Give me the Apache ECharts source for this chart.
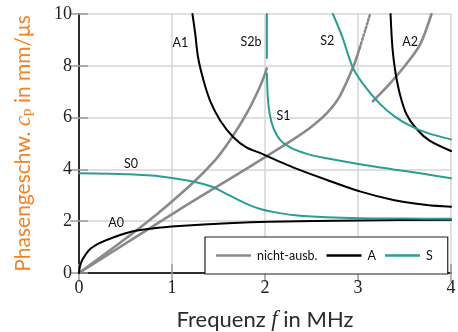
<!DOCTYPE html>
<html><head><meta charset="utf-8">
<script src="https://cdn.jsdelivr.net/npm/echarts@6/dist/echarts.min.js"></script>
<style>html,body{margin:0;padding:0;background:#fff}#c{width:458px;height:332px}</style>
</head><body><div id="c"></div>
<script>
// Data (f in MHz, c_p in mm/µs)
const fA0 = [0, 0.01, 0.036, 0.11, 0.22, 0.36, 0.57, 0.79, 1.08, 1.6, 2.04, 3.0, 4.0];
const cA0 = [0, 0.25, 0.51, 0.89, 1.15, 1.36, 1.6, 1.72, 1.81, 1.92, 1.98, 2.03, 2.06];
const fS0 = [0, 0.54, 0.9, 1.18, 1.43, 1.61, 1.79, 1.94, 2.1, 2.3, 2.66, 3.02, 3.5, 4.0];
const cS0 = [3.85, 3.81, 3.72, 3.56, 3.33, 3.01, 2.69, 2.48, 2.35, 2.24, 2.15, 2.11, 2.1, 2.09];
const fA1 = [1.22, 1.25, 1.28, 1.34, 1.41, 1.52, 1.66, 1.8, 1.97, 2.19, 2.3, 2.66, 3.02, 3.38, 3.74, 4.0];
const cA1 = [10, 9.23, 8.33, 7.42, 6.65, 5.88, 5.24, 4.85, 4.6, 4.25, 4.08, 3.6, 3.15, 2.82, 2.63, 2.56];
const fS2b = [2.02, 2.02];
const cS2b = [10, 8.3];
const fS1 = [2.02, 2.03, 2.05, 2.09, 2.16, 2.27, 2.45, 2.66, 3.02, 3.38, 3.7, 4.0];
const cS1 = [7.7, 6.8, 6.15, 5.6, 5.15, 4.85, 4.6, 4.43, 4.2, 4.0, 3.83, 3.66];
const fS2 = [2.73, 2.83, 2.94, 3.05, 3.23, 3.4, 3.58, 3.76, 4.0];
const cS2 = [10, 9.13, 7.97, 7.32, 6.55, 6.03, 5.65, 5.39, 5.16];
const fA2 = [3.35, 3.37, 3.4, 3.45, 3.52, 3.63, 3.77, 4.0];
const cA2 = [10, 8.71, 7.81, 6.91, 6.14, 5.56, 5.11, 4.71];
const fG1 = [0, 0.72, 1.2, 1.45, 1.62, 1.8, 1.95, 2.02];
const cG1 = [0, 1.93, 3.4, 4.3, 5.11, 6.14, 7.23, 7.9];
const fG2 = [0, 1.075, 1.79, 2.04, 2.3, 2.5, 2.66, 2.8, 2.95, 3.02];
const cG2 = [0, 2.44, 4.0, 4.56, 5.15, 5.65, 6.15, 6.8, 7.97, 8.71];
const fG2dot = [3.02, 3.08, 3.13];
const cG2dot = [8.71, 9.4, 10];
const fG3 = [3.16, 3.34, 3.52, 3.67, 3.79];
const cG3 = [6.63, 7.3, 8.07, 8.84, 10];
const modeLabels = ['A1', 'S2b', 'S2', 'A2', 'S1', 'S0', 'A0'];
const labelF = [1.09, 1.85, 2.67, 3.56, 2.2, 0.56, 0.4];
const labelC = [8.9, 8.93, 8.97, 8.93, 6.07, 4.22, 1.93];
const xTicks = [0, 1, 2, 3, 4];
const yTicks = [0, 2, 4, 6, 8, 10];
const legendNames = ['nicht-ausb.', 'A', 'S'];

const GRAY = '#8a8a8a', BLACK = '#000000', TEAL = '#2a9d95';
const zip = (a, b) => a.map((v, i) => [v, b[i]]);
function line(name, f, c, color, width, type) {
  return { name, type: 'line', data: zip(f, c), symbol: 'none', smooth: 0.3,
    lineStyle: { color, width, type: type || 'solid', cap: 'round' }, itemStyle: { color },
    silent: true, animation: false, clip: true };
}
const SANS = 'Lato, "Open Sans", sans-serif';
const SERIF = '"Liberation Serif", "DejaVu Serif", serif';

const chart = echarts.init(document.getElementById('c'), null, { renderer: 'canvas' });
const axisCommon = {
  type: 'value', min: 0,
  axisTick: { show: true, inside: true, length: 9, lineStyle: { color: '#9a9a9a', width: 1.5 } },
  splitLine: { show: false },
};
chart.setOption({
  animation: false,
  grid: { left: 79, right: 7, top: 14, bottom: 59, containLabel: false, outerBoundsMode: 'none' },
  xAxis: [
    Object.assign({}, axisCommon, {
      max: 4, interval: 1, position: 'bottom',
      axisLine: { lineStyle: { color: '#222', width: 1.5 } },
      splitLine: { show: true, lineStyle: { color: '#d6d6d6', width: 1.5 } },
      axisLabel: { fontFamily: SERIF, fontSize: 18, color: '#222', margin: 6,
        formatter: v => xTicks.includes(v) ? String(v) : '' },
      name: '{a|Frequenz }{m|f}{a| in MHz}', nameLocation: 'middle', nameGap: 35,
      nameTextStyle: { rich: {
        a: { fontFamily: SANS, fontSize: 22, color: '#2b2b2b' },
        m: { fontFamily: SERIF, fontStyle: 'italic', fontSize: 23, color: '#2b2b2b' } } }
    }),
    Object.assign({}, axisCommon, {
      max: 4, interval: 1, position: 'top',
      axisLine: { lineStyle: { color: '#222', width: 1.5 } },
      axisLabel: { show: false }
    })
  ],
  yAxis: [
    Object.assign({}, axisCommon, {
      max: 10, interval: 2, position: 'left',
      axisLine: { show: true, lineStyle: { color: '#222', width: 1.5 } },
      splitLine: { show: true, lineStyle: { color: '#d6d6d6', width: 1.5 } },
      axisLabel: { fontFamily: SERIF, fontSize: 18, color: '#222', margin: 7,
        formatter: v => yTicks.includes(v) ? String(v) : '' },
      name: '{a|Phasengeschw. }{m|c}{s|p}{a| in mm/μs}', nameLocation: 'middle', nameGap: 44,
      nameTextStyle: { rich: {
        a: { fontFamily: SANS, fontSize: 21, color: '#f58220' },
        m: { fontFamily: SERIF, fontStyle: 'italic', fontSize: 23, color: '#f58220' },
        s: { fontFamily: SERIF, fontSize: 15, color: '#f58220', verticalAlign: 'bottom', padding: [7, 0, 0, 0] } } }
    }),
    Object.assign({}, axisCommon, {
      max: 10, interval: 2, position: 'right',
      axisLine: { show: true, lineStyle: { color: '#222', width: 1.5 } },
      axisLabel: { show: false }
    })
  ],
  legend: {
    data: legendNames.map(n => ({ name: n, icon: 'rect' })), left: 205, top: 237, orient: 'horizontal',
    itemWidth: 35, itemHeight: 2.6, itemGap: 9,
    padding: [12, 15, 12, 11],
    backgroundColor: '#fff', borderColor: '#222', borderWidth: 1.2, borderRadius: 0,
    textStyle: { fontFamily: SANS, fontSize: 12.5, color: '#111', padding: [0, 0, 0, 1] },
    selectedMode: false
  },
  series: [
    line('nicht-ausb.', fG1, cG1, GRAY, 2.6),
    line('nicht-ausb.', fG2, cG2, GRAY, 2.6),
    line('nicht-ausb.', fG2dot, cG2dot, GRAY, 2.6, [1.5, 2.5]),
    line('nicht-ausb.', fG3, cG3, GRAY, 2.6),
    line('A', fA0, cA0, BLACK, 2),
    line('A', fA1, cA1, BLACK, 2),
    line('A', fA2, cA2, BLACK, 2),
    line('S', fS0, cS0, TEAL, 2),
    line('S', fS1, cS1, TEAL, 2),
    line('S', fS2, cS2, TEAL, 2),
    line('S', fS2b, cS2b, TEAL, 2),
    { type: 'scatter', name: 'labels', symbolSize: 0, silent: true, z: 5,
      itemStyle: { opacity: 1 },
      data: modeLabels.map((n, i) => ({ name: n, value: [labelF[i], labelC[i]] })),
      label: { show: true, position: 'inside', formatter: p => p.name, opacity: 1,
        fontFamily: SANS, fontSize: 12.5, color: '#111' } }
  ]
});
</script></body></html>
